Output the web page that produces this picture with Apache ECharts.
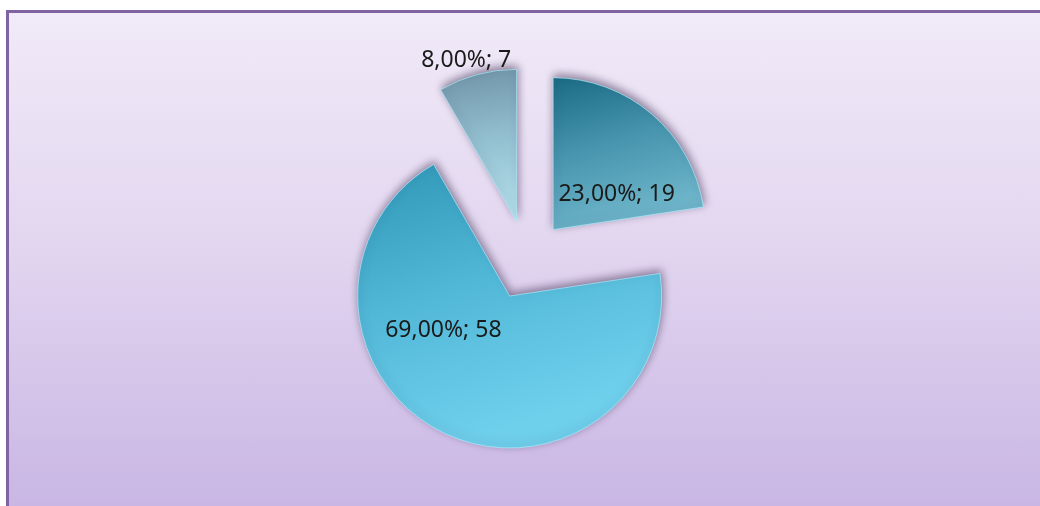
<!DOCTYPE html>
<html>
<head>
<meta charset="utf-8">
<script src="https://cdn.jsdelivr.net/npm/echarts@6/dist/echarts.min.js"></script>
<style>
    html, body { margin: 0; padding: 0; background: #fff; }
    #frame {
        position: absolute; left: 6px; top: 10px; right: 0; bottom: 0;
        border-left: 3px solid #8064a2; border-top: 3px solid #8064a2;
        background: linear-gradient(to bottom, #f1eaf8 0%, #e3d7f0 45%, #c9b6e4 100%);
    }
    #chart { position: absolute; left: 0; top: 0; width: 1040px; height: 506px; }
</style>
</head>
<body>
<div id="frame"></div>
<div id="chart"></div>
<script>
    // werte aus dem bild
    var values = [19, 58, 7];
    var percents = [23, 69, 8];

    // farben je segment (oben -> unten)
    var sliceColors = [
        ["#1b6b85", "#4795ae", "#6fb6cb"],
        ["#2f96b6", "#52b8d8", "#6fd0ec"],
        ["#6f93a6", "#93c0d0", "#b4e0ec"]
    ];
    // verschiebung der beschriftungen
    var labelShift = [[12, 25], [-32, -37], [-30, -85]];

    var myChart = echarts.init(document.getElementById("chart"));

    var data = values.map(function (v, i) {
        var c = sliceColors[i];
        var style = {
            color: new echarts.graphic.LinearGradient(0, 0, 0.3, 1, [
                { offset: 0, color: c[0] },
                { offset: 0.5, color: c[1] },
                { offset: 1, color: c[2] }
            ]),
            borderColor: "rgba(170,235,250,0.7)",
            borderWidth: 1,
            shadowBlur: 9,
            shadowColor: "rgba(40,25,60,0.5)",
            shadowOffsetX: 1,
            shadowOffsetY: -3
        };
        return {
            value: v,
            selected: true,
            itemStyle: style,
            select: { itemStyle: style }
        };
    });

    var option = {
        backgroundColor: "transparent",
        animation: false,
        series: [
            {
                type: "pie",
                center: [527, 260],
                radius: [0, 152],
                startAngle: 90,
                clockwise: true,
                selectedMode: "multiple",
                selectedOffset: 40,
                emphasis: { scale: false },
                label: {
                    show: true,
                    position: "inside",
                    color: "#1a1a1a",
                    fontFamily: "Noto Sans",
                    fontSize: 23,
                    formatter: function (p) {
                        return percents[p.dataIndex].toFixed(2).replace(".", ",") + "%; " + p.value;
                    }
                },
                labelLayout: function (params) {
                    var s = labelShift[params.dataIndex];
                    return { dx: s[0], dy: s[1] };
                },
                labelLine: { show: false },
                data: data
            }
        ]
    };
    myChart.setOption(option);
</script>
</body>
</html>
